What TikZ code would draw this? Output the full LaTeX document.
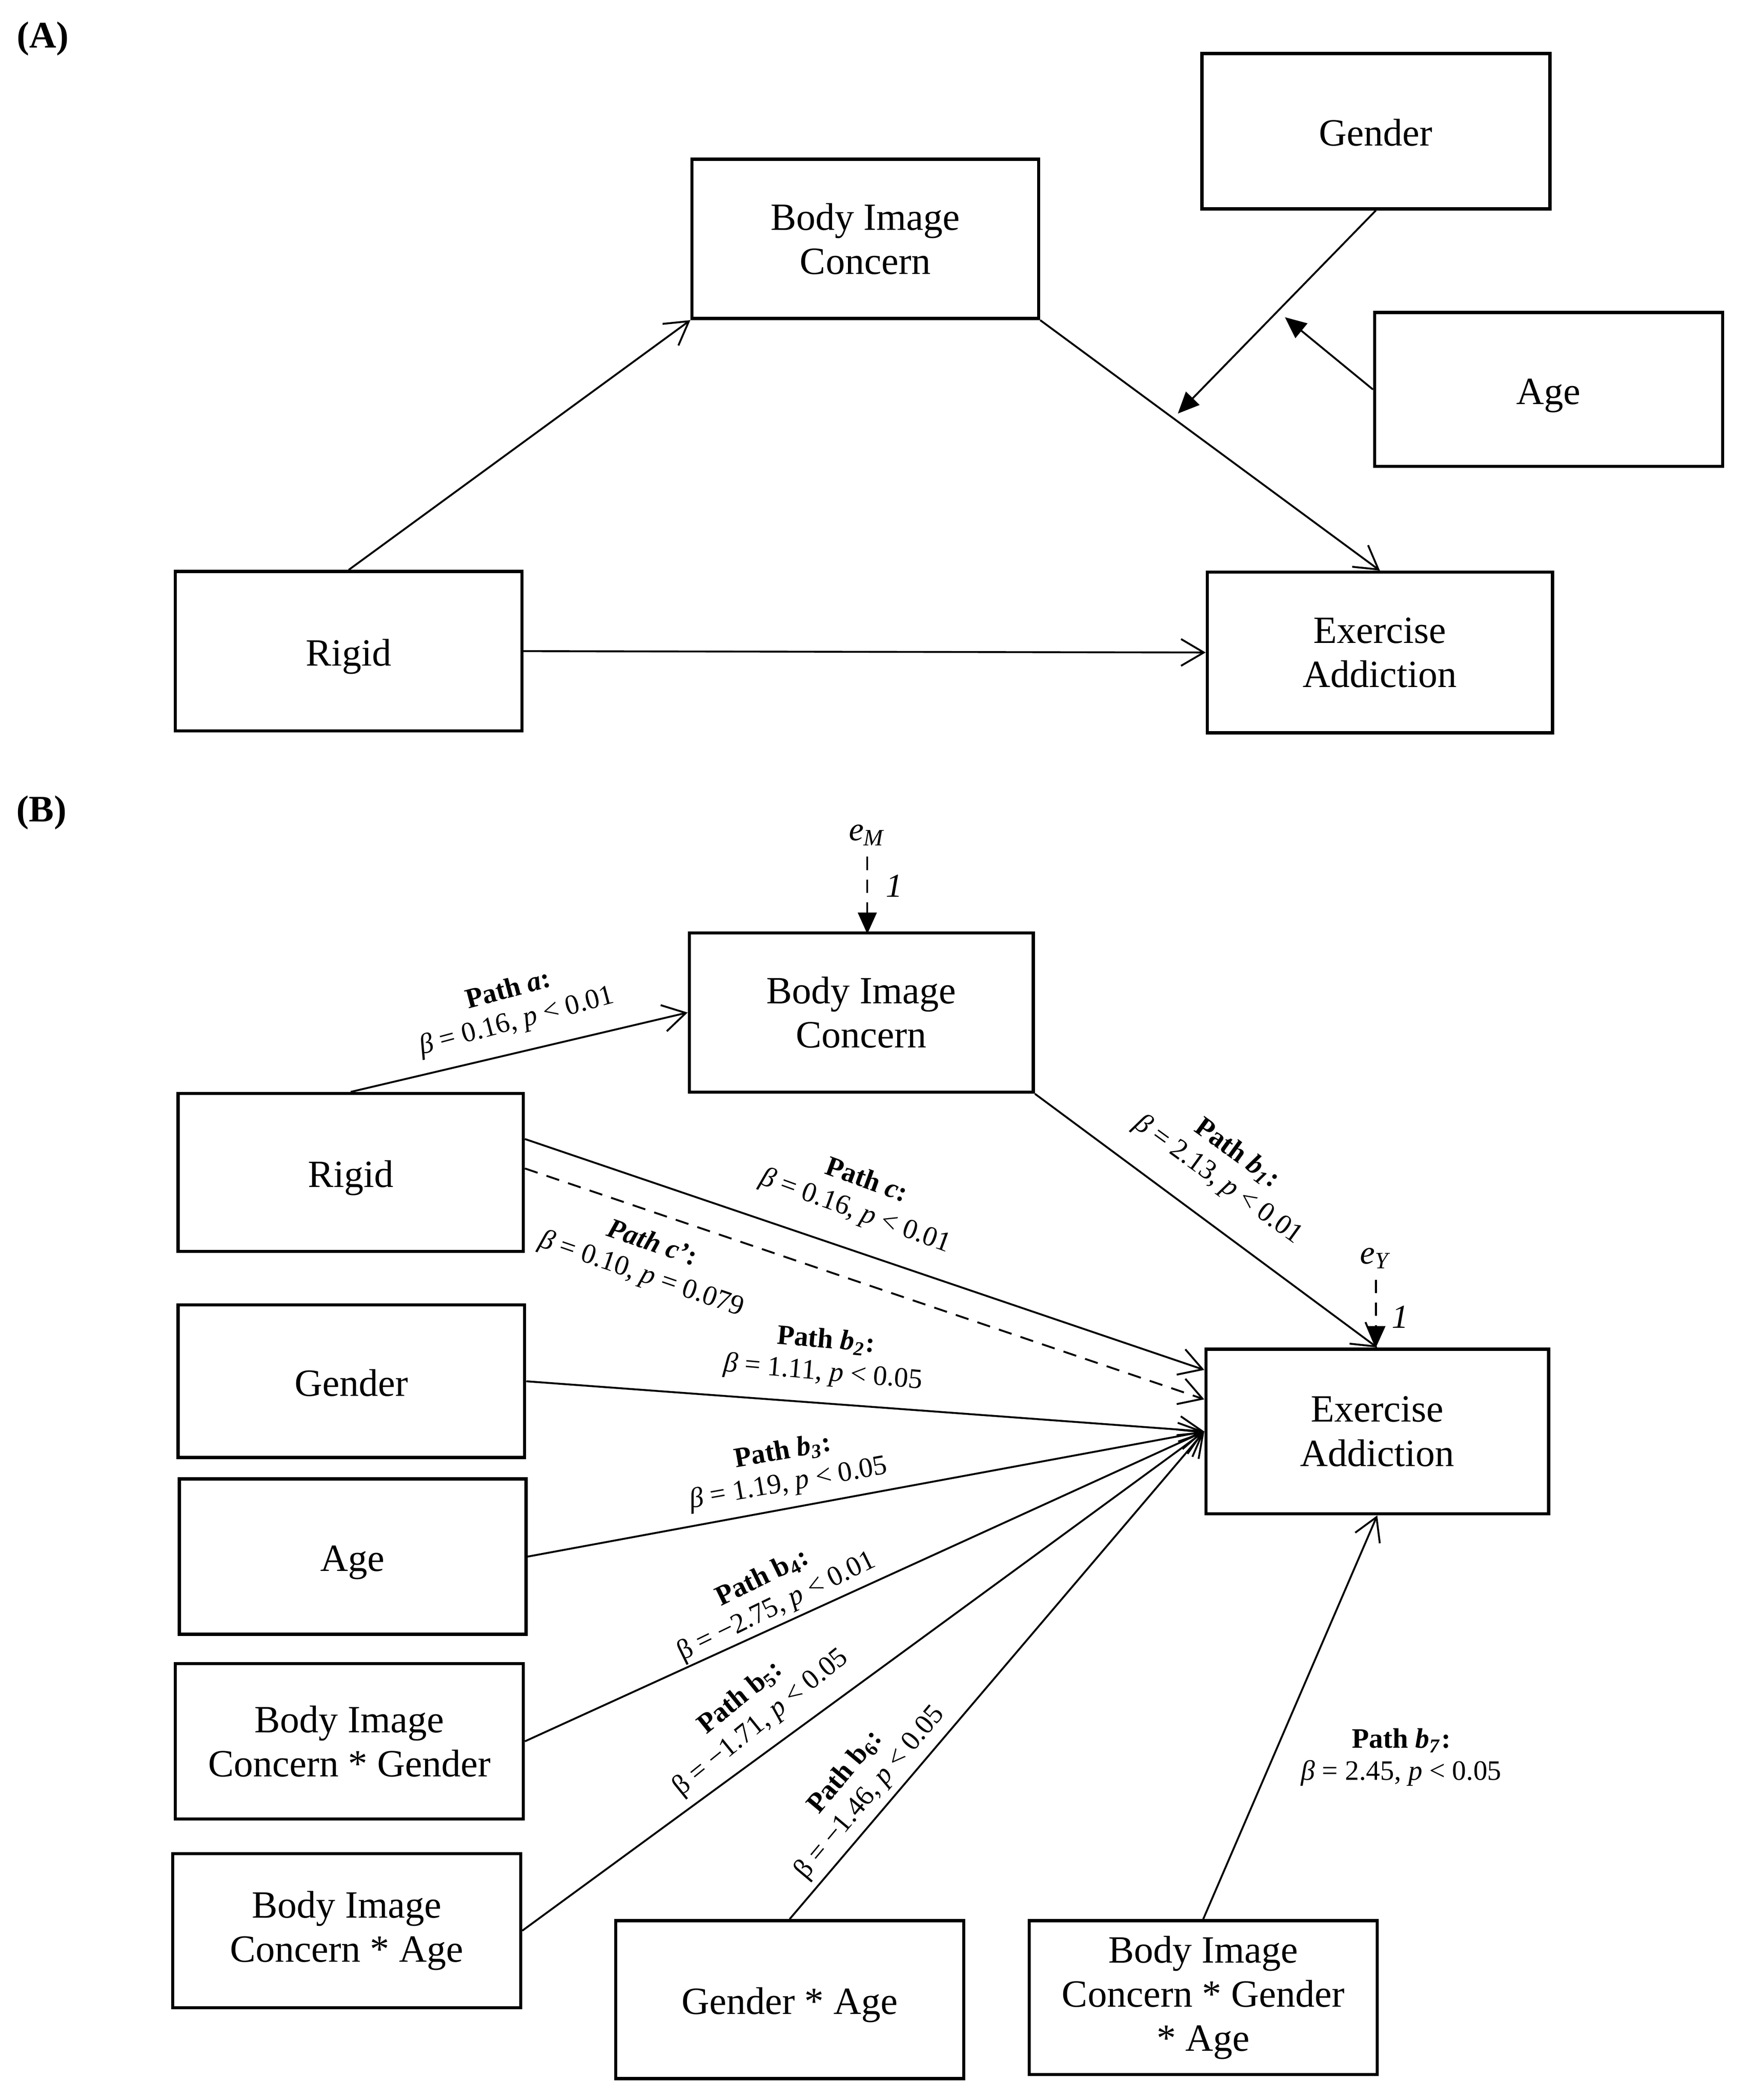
\documentclass[tikz,border=0pt]{standalone}
\usepackage{fontspec}
\setmainfont{Liberation Serif}
\usetikzlibrary{arrows.meta}
\begin{document}
\begin{tikzpicture}[x=0.5pt,y=-0.5pt,
  box/.style={draw,line width=1.2pt,inner sep=0pt,align=center,font=\fontsize{14.4pt}{16.5pt}\selectfont},
  sbox/.style={box,text height=12.5pt,text depth=1.5pt},
  wh/.style n args={2}{minimum width=#1*0.5pt,minimum height=#2*0.5pt},
  arr/.style={line width=0.7pt,-{Straight Barb[length=8.5pt,width=10pt,line width=0.7pt]}},
  farr/.style={line width=0.7pt,-{Triangle[length=8pt,width=7pt]}},
  dsh/.style={dash pattern=on 5pt off 3.5pt},
  lab/.style={align=center,font=\fontsize{10.5pt}{12pt}\selectfont,inner sep=0pt},
  err/.style={font=\fontsize{12.5pt}{13pt}\selectfont,inner sep=0pt},
  ttl/.style={font=\fontsize{14pt}{15pt}\selectfont\bfseries,inner sep=0pt}]
\useasboundingbox (0,0) rectangle (1300,1569);

% ---------------- (A) ----------------
\node[ttl] (tA) at (32,29) {(A)};
\node[box,wh={259}{119}] (bicA) at (646.5,178.5) {Body Image\\Concern};
\node[sbox,wh={260}{116}] (genA) at (1028,98) {Gender};
\node[sbox,wh={260}{115}] (ageA) at (1157,291) {Age};
\node[sbox,wh={259}{119}] (rigA) at (260.5,486.5) {Rigid};
\node[box,wh={258}{120}] (eaA) at (1031,487.5) {Exercise\\Addiction};
\coordinate (mA1) at (880,309);
\coordinate (mA2) at (960,237);

\draw[arr] (rigA.north) -- (bicA.south west);
\draw[arr] (bicA.south east) -- (eaA.north);
\draw[arr] (rigA.east) -- (eaA.west);
\draw[farr] (genA.south) -- (mA1);
\draw[farr] (ageA.west) -- (mA2);

% ---------------- (B) ----------------
\node[ttl] (tB) at (31,607) {(B)};
\node[box,wh={257}{119}] (bicB) at (643.5,756.5) {Body Image\\Concern};
\node[sbox,wh={258}{118}] (rigB) at (262,876) {Rigid};
\node[sbox,wh={259}{114}] (genB) at (262.5,1032) {Gender};
\node[sbox,wh={259}{116}] (ageB) at (263.5,1163) {Age};
\node[box,wh={260}{116}] (bgB) at (261,1301) {Body Image\\Concern * Gender};
\node[box,wh={260}{115}] (baB) at (259,1442.5) {Body Image\\Concern * Age};
\node[sbox,wh={260}{118}] (gaB) at (590,1494) {Gender * Age};
\node[box,wh={260}{115}] (bgaB) at (899,1492.5) {Body Image\\Concern * Gender\\* Age};
\node[box,wh={256}{123}] (eaB) at (1029,1069.5) {Exercise\\Addiction};

% error terms
\node[err] (eM) at (648,624) {\textit{e}\textsubscript{\textit{M}}};
\node[err] (oneM) at (668,662) {\textit{1}};
\draw[dsh,farr] ([yshift=-4pt]eM.south) -- ([yshift=-1pt]eM.south |- bicB.north);
\node[err] (eY) at (1028,940) {\textit{e}\textsubscript{\textit{Y}}};
\node[err] (oneY) at (1046,984) {\textit{1}};
\draw[dsh,farr] ([yshift=-4pt]eY.south) -- (eY.south |- eaB.north);

% paths
\draw[arr] (rigB.north) -- (bicB.west);
\draw[arr] (bicB.south east) -- (eaB.north);
\draw[arr] ([yshift=12.5pt]rigB.east) -- ([yshift=23pt]eaB.west);
\draw[arr,dsh] ([yshift=1.5pt]rigB.east) -- ([yshift=12pt]eaB.west);
\draw[arr] (genB.east) -- (eaB.west);
\draw[arr] (ageB.east) -- (eaB.west);
\draw[arr] (bgB.east) -- (eaB.west);
\draw[arr] (baB.east) -- (eaB.west);
\draw[arr] (gaB.north) -- (eaB.west);
\draw[arr] (bgaB.north) -- (eaB.south);

% labels
\node[lab,rotate=15] (la) at (383,752) {\textbf{Path \textit{a}:}\\\textit{β} = 0.16, \textit{p} < 0.01};
\node[lab,rotate=-36] (lb1) at (917,872) {\textbf{Path \textit{b}\textsubscript{\textit{1}}:}\\\textit{β} = 2.13, \textit{p} < 0.01};
\node[lab,rotate=-20] (lc) at (643,894) {\textbf{Path \textit{c}:}\\\textit{β} = 0.16, \textit{p} < 0.01};
\node[lab,rotate=-19] (lcp) at (483,941) {\textbf{\textit{Path c'}:}\\\textit{β} = 0.10, \textit{p} = 0.079};
\node[lab,rotate=-5] (lb2) at (616,1014) {\textbf{Path \textit{b}\textsubscript{\textit{2}}:}\\\textit{β} = 1.11, \textit{p} < 0.05};
\node[lab,rotate=10] (lb3) at (587,1097) {\textbf{Path \textit{b}\textsubscript{\textit{3}}:}\\\textit{β} = 1.19, \textit{p} < 0.05};
\node[lab,rotate=26] (lb4) at (575,1190) {\textbf{Path b\textsubscript{4}:}\\β = −2.75, \textit{p} < 0.01};
\node[lab,rotate=39] (lb5) at (561,1278) {\textbf{Path b\textsubscript{5}:}\\β = −1.71, \textit{p} < 0.05};
\node[lab,rotate=50] (lb6) at (641,1332) {\textbf{Path b\textsubscript{6}:}\\β = −1.46, \textit{p} < 0.05};
\node[lab] (lb7) at (1047,1313) {\textbf{Path \textit{b}\textsubscript{\textit{7}}:}\\\textit{β} = 2.45, \textit{p} < 0.05};
\end{tikzpicture}
\end{document}
